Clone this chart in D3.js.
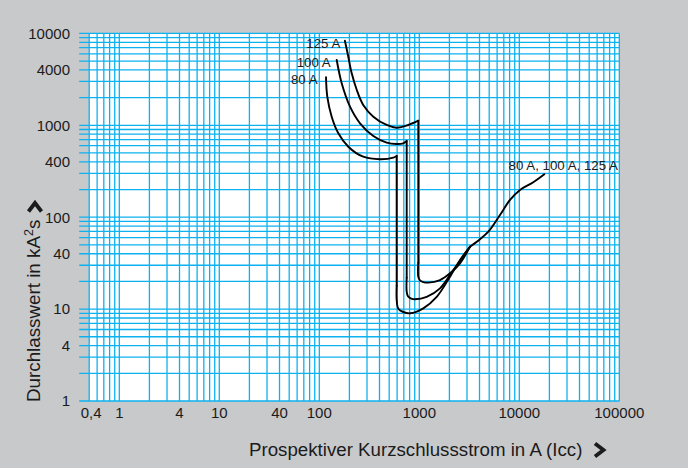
<!DOCTYPE html>
<meta charset="utf-8">
<head>
<style>
body { margin: 0; background: #fff; }
svg text { font-family: "Liberation Sans", Arial, Helvetica, sans-serif; fill: #1b1b1b; }
</style>
</head>
<body>
<script src="https://d3js.org/d3.v7.min.js"></script>
<script>
// tick values and labels
var xTicks = [0.5, 1, 4, 10, 40, 100, 1000, 10000, 100000];
var xTickLabels = ["0,4", "1", "4", "10", "40", "100", "1000", "10000", "100000"];
var yTicks = [1, 4, 10, 40, 100, 400, 1000, 4000, 10000];
var yTickLabels = ["1", "4", "10", "40", "100", "400", "1000", "4000", "10000"];

// curves [Icc in A, I2t in kA2s]
var upper80 = [[116.7,3327],[120.2,2047],[133,1241],[155,818],[195,585],[275,455],[404.5,427],[550,444],[594,463]];
var lower80 = [[594,18],[594,12.6],[617,10.1],[692,9.3],[807,9.0],[1096,10.2],[1493,13.6],[2028,22.5],[2553,34.2],[3215,47.8]];
var upper100 = [[149.3,5135],[167.5,2865],[202.8,1594],[255.3,1051],[346.7,765],[472,647],[594,626],[692,637],[748,675]];
var lower100 = [[748,22],[748,15.5],[770,13.8],[830,13.0],[906,12.8],[1186,13.6],[1611,16.8],[2188,26.6],[2754,37.2],[3215,47.8]];
var upper125 = [[180.3,8330],[195,5579],[211,3679],[237,2421],[275,1663],[347,1241],[472,1008],[594,942],[776,1008],[977,1122]];
var lower125 = [[977,32],[977,22.5],[1016,20.5],[1096,19.7],[1230,19.4],[1611,20.7],[2028,24.5],[2553,31.5],[3215,47.8]];
var common = [[3215,47.8],[4046,57.5],[4900,69.5],[6412,105.7],[8075,154],[10160,198],[13800,240],[17800,293]];

var curveNames = ["80 A", "100 A", "125 A"];
var labelAt = [[96,3327],[130,5135],[162,8330]];   // where each label ends
var commonLabel = "80 A, 100 A, 125 A";
var commonLabelAt = [97000, 290];

var W = 699, H = 468;
var svg = d3.select("body").append("svg").attr("width", W).attr("height", H);

var x = d3.scaleLog().domain([0.5, 100000]).range([89.2, 619.3]);
var y = d3.scaleLog().domain([1, 10000]).range([401, 33.4]);

svg.append("rect").attr("width", 688).attr("height", H).attr("fill", "#c8c9cb");
svg.append("rect")
  .attr("x", x(0.5)).attr("y", y(10000))
  .attr("width", x(100000) - x(0.5)).attr("height", y(1) - y(10000))
  .attr("fill", "#fff");

// grid lines
var xGrid = [], yGrid = [];
[0.1, 1, 10, 100, 1000, 10000].forEach(function(d) {
  for (var i = 1; i < 10; i++) { if (d * i >= 0.5) xGrid.push(d * i); }
});
xGrid.push(100000);
[1, 10, 100, 1000].forEach(function(d) {
  for (var i = 1; i < 10; i++) yGrid.push(d * i);
});
yGrid.push(10000);

var g = svg.append("g").attr("stroke", "#0cb2f0").attr("stroke-width", 1.3);
g.selectAll(".vx").data(xGrid).join("line")
  .attr("x1", d => x(d)).attr("x2", d => x(d))
  .attr("y1", y(10000)).attr("y2", y(1));
g.selectAll(".hy").data(yGrid).join("line")
  .attr("x1", x(0.5) - 10).attr("x2", x(100000))
  .attr("y1", d => y(d)).attr("y2", d => y(d));

// tick labels
svg.selectAll(".xl").data(xTicks).join("text")
  .attr("x", (d, i) => x(d) + (i == 0 ? 2 : 0))
  .attr("y", 418)
  .attr("text-anchor", "middle")
  .attr("font-size", 15)
  .text((d, i) => xTickLabels[i]);
svg.selectAll(".yl").data(yTicks).join("text")
  .attr("x", 70)
  .attr("y", d => y(d) + 5.3)
  .attr("text-anchor", "end")
  .attr("font-size", 15)
  .text((d, i) => yTickLabels[i]);

// curves
var line = d3.line().x(d => x(d[0])).y(d => y(d[1])).curve(d3.curveCatmullRom.alpha(0.5));
var pieces = [upper80, lower80, upper100, lower100, upper125, lower125, common];
var cg = svg.append("g").attr("fill", "none").attr("stroke", "#000")
  .attr("stroke-width", 1.9).attr("stroke-linecap", "round");
cg.selectAll("path").data(pieces).join("path").attr("d", line);
// vertical drops
var drops = [[upper80, lower80], [upper100, lower100], [upper125, lower125]];
cg.selectAll("line").data(drops).join("line")
  .attr("x1", d => x(d[0][d[0].length - 1][0]))
  .attr("x2", d => x(d[1][0][0]))
  .attr("y1", d => y(d[0][d[0].length - 1][1]))
  .attr("y2", d => y(d[1][0][1]));

// curve labels
svg.selectAll(".cl").data(curveNames).join("text")
  .attr("x", (d, i) => x(labelAt[i][0]))
  .attr("y", (d, i) => y(labelAt[i][1]) + 7)
  .attr("text-anchor", "end")
  .attr("font-size", 13.3)
  .text(d => d);
svg.append("text")
  .attr("x", x(commonLabelAt[0])).attr("y", y(commonLabelAt[1]) - 5)
  .attr("text-anchor", "end").attr("font-size", 13.3)
  .text(commonLabel);

// axis titles
svg.append("text").attr("x", 249).attr("y", 456).attr("font-size", 18.7)
  .text("Prospektiver Kurzschlussstrom in A (Icc)");
svg.append("path").attr("d", "M595,443.5L603.5,450L595,456.5")
  .attr("fill", "none").attr("stroke", "#1b1b1b").attr("stroke-width", 3.8);

var yt = svg.append("text").attr("transform", "translate(40,402) rotate(-90)")
  .attr("font-size", 18.8);
yt.append("tspan").text("Durchlasswert in kA");
yt.append("tspan").attr("font-size", 12.5).attr("dy", -7).text("2");
yt.append("tspan").attr("dy", 7).text("s");
svg.append("path").attr("d", "M28.5,211.5L35,203L41.5,211.5")
  .attr("fill", "none").attr("stroke", "#1b1b1b").attr("stroke-width", 3.8);
</script>
</body>
